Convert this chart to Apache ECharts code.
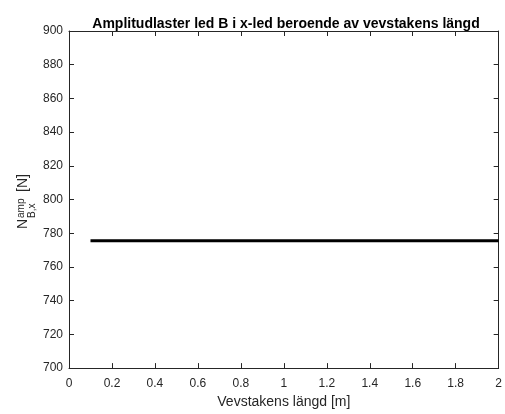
<!DOCTYPE html>
<html>
<head>
<meta charset="utf-8">
<script src="https://cdn.jsdelivr.net/npm/echarts@6/dist/echarts.min.js"></script>
<style>
  html, body { margin: 0; padding: 0; background: #fff; }
  #chart { width: 505px; height: 414px; }
</style>
</head>
<body>
<div id="chart"></div>
<script>
// Rod length [m] and the amplitude load in joint B, x-direction [N]
const rodLength = [0.1, 0.2, 0.3, 0.4, 0.5, 0.6, 0.7, 0.8, 0.9, 1.0,
                   1.1, 1.2, 1.3, 1.4, 1.5, 1.6, 1.7, 1.8, 1.9, 2.0];
const loadBx = [775.5, 775.5, 775.5, 775.5, 775.5, 775.5, 775.5, 775.5, 775.5, 775.5,
                775.5, 775.5, 775.5, 775.5, 775.5, 775.5, 775.5, 775.5, 775.5, 775.5];
const xTicks = [0, 0.2, 0.4, 0.6, 0.8, 1, 1.2, 1.4, 1.6, 1.8, 2];
const yTicks = [700, 720, 740, 760, 780, 800, 820, 840, 860, 880, 900];

const FONT = '"Liberation Sans", Arial, Helvetica, sans-serif';
const AXIS_COLOR = '#262626';

const chart = echarts.init(document.getElementById('chart'), null, { renderer: 'canvas' });

const gridL = 69, gridR = 6, gridT = 31, gridB = 44;

function axisCommon(extra) {
  return Object.assign({
    axisLine: { show: true, onZero: false, lineStyle: { color: AXIS_COLOR, width: 1 } },
    axisTick: { show: true, inside: true, length: 5, lineStyle: { color: AXIS_COLOR } },
    splitLine: { show: false },
  }, extra);
}

const option = {
  animation: false,
  backgroundColor: '#fff',
  title: {
    text: 'Amplitudlaster led B i x-led beroende av vevstakens längd',
    left: gridL + (505 - gridL - gridR) / 2 - 3,
    textAlign: 'center',
    top: 12,
    textStyle: { fontFamily: FONT, fontSize: 14, fontWeight: 'bold', color: '#000' }
  },
  grid: { left: gridL, right: gridR, top: gridT, bottom: gridB, containLabel: false },
  xAxis: [
    axisCommon({
      type: 'value', min: xTicks[0], max: xTicks[xTicks.length - 1], interval: 0.2,
      name: 'Vevstakens längd [m]', nameLocation: 'middle', nameGap: 25,
      nameTextStyle: { fontFamily: FONT, fontSize: 14, color: AXIS_COLOR },
      axisLabel: { fontFamily: FONT, fontSize: 12, color: AXIS_COLOR, margin: 10,
                   formatter: v => String(+v.toFixed(1)) }
    }),
    axisCommon({
      type: 'value', position: 'top', min: xTicks[0], max: xTicks[xTicks.length - 1], interval: 0.2,
      axisLabel: { show: false }
    })
  ],
  yAxis: [
    axisCommon({
      type: 'value', min: yTicks[0], max: yTicks[yTicks.length - 1], interval: 20,
      axisLabel: { fontFamily: FONT, fontSize: 12, color: AXIS_COLOR, margin: 6 }
    }),
    axisCommon({
      type: 'value', position: 'right', min: yTicks[0], max: yTicks[yTicks.length - 1], interval: 20,
      axisLabel: { show: false }
    })
  ],
  series: [{
    type: 'line',
    data: rodLength.map((x, i) => [x, loadBx[i]]),
    showSymbol: false,
    lineStyle: { color: '#000', width: 3 },
    itemStyle: { color: '#000' }
  }],
  graphic: [
    // y-axis name: N^{amp}_{B,x} [N], rotated to read bottom-to-top
    { type: 'text', x: 30.5, y: 229, rotation: Math.PI / 2,
      style: { text: 'N', font: '14px ' + FONT, fill: AXIS_COLOR, textAlign: 'left', textVerticalAlign: 'bottom' } },
    { type: 'text', x: 26, y: 218, rotation: Math.PI / 2,
      style: { text: 'amp', font: '10px ' + FONT, fill: AXIS_COLOR, textAlign: 'left', textVerticalAlign: 'bottom' } },
    { type: 'text', x: 37, y: 218, rotation: Math.PI / 2,
      style: { text: 'B,x', font: '10px ' + FONT, fill: AXIS_COLOR, textAlign: 'left', textVerticalAlign: 'bottom' } },
    { type: 'text', x: 30.5, y: 192, rotation: Math.PI / 2,
      style: { text: '[N]', font: '14px ' + FONT, fill: AXIS_COLOR, textAlign: 'left', textVerticalAlign: 'bottom' } }
  ]
};

chart.setOption(option);
</script>
</body>
</html>
